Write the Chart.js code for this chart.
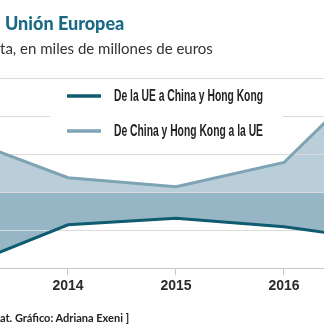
<!DOCTYPE html>
<html>
<head>
<meta charset="utf-8">
<script src="https://cdn.jsdelivr.net/npm/chart.js@4.4.1/dist/chart.umd.min.js"></script>
<style>
  body { margin: 0; background: #fff; }
  #wrap { position: relative; width: 324px; height: 324px; overflow: hidden; }
  #chart { position: absolute; left: 0; top: 0; }
  .txt { position: absolute; white-space: nowrap; line-height: 1; }
  #titulo { left: 5px; top: 12px; font: 900 18px Lato, sans-serif; color: #1b6a85; }
  #subtitulo { left: 0; top: 39px; font: 15px Lato, sans-serif; color: #333; }
  #fuente { left: 0; top: 311px; font: bold 11px Lato, sans-serif; color: #222; }
</style>
</head>
<body>
<div id="wrap">
  <canvas id="chart" width="324" height="324"></canvas>
  <div class="txt" id="titulo">Unión Europea</div>
  <div class="txt" id="subtitulo">ta, en miles de millones de euros</div>
  <div class="txt" id="fuente">at. Gráfico: Adriana Exeni ]</div>
</div>
<script>
// datos
let years = [2013, 2014, 2015, 2016, 2017];
let tickYears = [2014, 2015, 2016];
let ueAChina = [0, 11.4, 13.1, 10.9, 7.0];
let chinaAUe = [34.5, 23.8, 21.4, 27.8, 55.5];
let nivelBanda = 20;
let labels = ['De la UE a China y Hong Kong', 'De China y Hong Kong a la UE'];

let colorOscuro = '#0f5b6f';
let colorClaro = '#7ea3b4';
let rellenoOscuro = '#97b6c5';
let rellenoClaro = '#b9ced8';

function toPoints(values) {
    return years.map(function(y, i) {
        return { x: y, y: values[i] };
    });
}

// leyenda dibujada dentro del área del gráfico
const legendBox = {
    id: 'legendBox',
    beforeDatasetsDraw(chart) {
        let ctx = chart.ctx;
        ctx.save();
        ctx.fillStyle = '#fff';
        ctx.fillRect(50, 82, 233, 68);
        let rows = [
            { y: 96, color: colorOscuro, text: labels[0] },
            { y: 131, color: colorClaro, text: labels[1] }
        ];
        ctx.font = 'bold 16px "Liberation Sans Narrow", sans-serif';
        let w = ctx.measureText(labels[0]).width;
        let sx = w > 149 ? 149 / w : 1;
        rows.forEach(function(r) {
            ctx.strokeStyle = r.color;
            ctx.lineWidth = 3.5;
            ctx.beginPath();
            ctx.moveTo(67, r.y);
            ctx.lineTo(101, r.y);
            ctx.stroke();
            ctx.save();
            ctx.translate(114, r.y);
            ctx.scale(sx, 1);
            ctx.fillStyle = '#222';
            ctx.textBaseline = 'middle';
            ctx.fillText(r.text, 0, 1);
            ctx.restore();
        });
        ctx.restore();
    }
};

let ctx = document.getElementById('chart').getContext('2d');
let chart = new Chart(ctx, {
    type: 'line',
    data: {
        datasets: [{
            label: labels[0],
            data: toPoints(ueAChina),
            borderColor: colorOscuro,
            borderWidth: 3,
            pointRadius: 0,
            tension: 0,
            fill: { target: 2, above: rellenoOscuro, below: rellenoOscuro }
        }, {
            label: labels[1],
            data: toPoints(chinaAUe),
            borderColor: colorClaro,
            borderWidth: 3,
            pointRadius: 0,
            tension: 0,
            fill: { target: 2, above: rellenoClaro, below: rellenoClaro }
        }, {
            label: 'banda',
            data: toPoints(years.map(function() { return nivelBanda; })),
            borderWidth: 0,
            borderColor: 'rgba(0,0,0,0)',
            pointRadius: 0,
            fill: false
        }]
    },
    options: {
        responsive: false,
        animation: false,
        devicePixelRatio: 1,
        layout: { padding: { top: 78, bottom: 26, left: 0, right: 0 } },
        plugins: {
            legend: { display: false },
            tooltip: { enabled: false },
            filler: { drawTime: 'beforeDraw' }
        },
        scales: {
            x: {
                type: 'linear',
                min: 2014 - 68 / 108,
                max: 2016 + 40 / 108,
                afterBuildTicks: function(scale) {
                    scale.ticks = tickYears.map(function(v) { return { value: v }; });
                },
                ticks: {
                    callback: function(v) { return String(v); },
                    color: '#2a2a2a',
                    font: { family: '"Liberation Sans Narrow", sans-serif', size: 14, weight: 'bold' },
                    padding: 3,
                    maxRotation: 0
                },
                grid: { drawOnChartArea: false, drawTicks: true, tickLength: 7, color: '#c8c8c8' },
                border: { display: true, color: '#c8c8c8' }
            },
            y: {
                min: 0,
                max: 50,
                ticks: { display: false, stepSize: 10 },
                grid: { color: '#dadada', drawTicks: false },
                border: { display: false }
            }
        }
    },
    plugins: [legendBox]
});
</script>
</body>
</html>
